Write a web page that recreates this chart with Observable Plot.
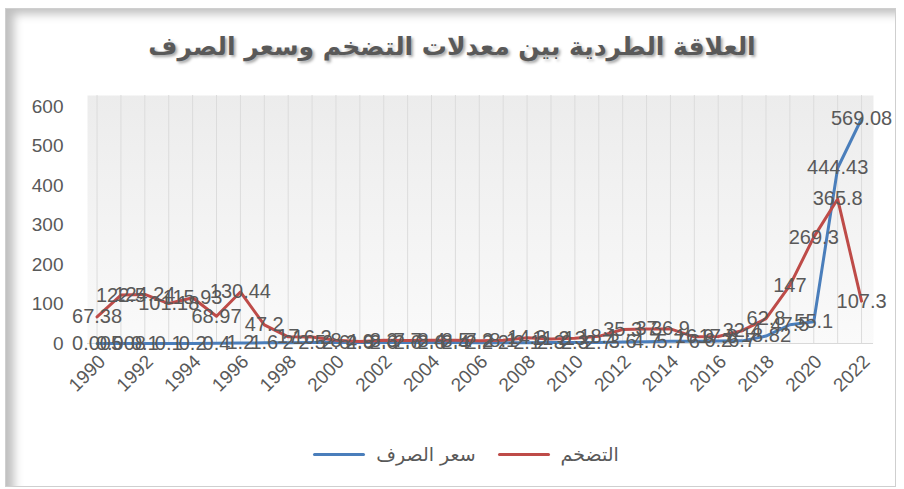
<!DOCTYPE html>
<html>
<head>
<meta charset="utf-8">
<script src="https://cdn.jsdelivr.net/npm/d3@7"></script>
<script src="https://cdn.jsdelivr.net/npm/@observablehq/plot@0.6"></script>
<style>
  html, body { margin: 0; padding: 0; background: #ffffff; }
  #wrap { position: relative; width: 904px; height: 489px; overflow: hidden; font-family: "Liberation Sans", Arial, sans-serif; }
  #card { position: absolute; left: 5px; top: 8px; width: 889px; height: 477px; border: 1px solid #cfcfcf;
          box-shadow: inset 16px 13px 10px -8px rgba(0,0,0,0.25); background: #ffffff; }
  #chart { position: absolute; left: 0; top: 0; }
  #title { position: absolute; left: 0; width: 904px; top: 32px; text-align: center; direction: rtl;
           font-family: "DejaVu Sans", sans-serif; font-weight: bold; font-size: 25px; color: #595959;
           text-shadow: 2px 2px 3px rgba(0,0,0,0.35); }
  #legend { position: absolute; top: 443px; left: 14px; width: 904px; display: flex; justify-content: center;
            align-items: center; font-family: "DejaVu Sans", sans-serif; font-size: 19px; color: #595959; }
  .sw { display: inline-block; width: 52px; height: 3px; border-radius: 2px; margin-right: 11px; }
  .item { display: flex; align-items: center; margin: 0 11px; }
</style>
</head>
<body>
<div id="wrap">
  <div id="card"></div>
  <div id="chart"></div>
  <div id="title">العلاقة الطردية بين معدلات التضخم وسعر الصرف</div>
  <div id="legend"></div>
</div>
<script>
const years = [1990,1991,1992,1993,1994,1995,1996,1997,1998,1999,2000,2001,2002,2003,2004,2005,2006,2007,2008,2009,2010,2011,2012,2013,2014,2015,2016,2017,2018,2019,2020,2021,2022];
const exchangeRate = [0.005,0.008,0.1,0.1,0.2,0.4,1.2,1.6,2,2.5,2.6,2.6,2.6,2.6,2.6,2.4,2.2,2,2.1,2.3,2.3,2.7,3.6,4.7,5.7,6,6.2,6.7,18.82,47.5,55.1,444.43,569.08];
const inflation = [67.38,122.5,124.24,101.18,115.93,68.97,130.44,47.2,17,16.2,8,4.9,8.3,7.7,8.4,8.5,7.2,8.1,14.3,11.2,13,18.1,35.3,37,36.9,16.9,17.8,32.4,62.8,147,269.3,365.8,107.3];
const xTickYears = [1990,1992,1994,1996,1998,2000,2002,2004,2006,2008,2010,2012,2014,2016,2018,2020,2022];
const yTicks = [0,100,200,300,400,500,600];
const seriesNames = ["سعر الصرف", "التضخم"];
const colors = ["#4A7EBB", "#BE4B48"];

const exData = years.map((y, i) => ({year: y, v: exchangeRate[i]}));
const infData = years.map((y, i) => ({year: y, v: inflation[i]}));

const defs = () => {
  const g = d3.create("svg:defs");
  const lg = g.append("linearGradient").attr("id", "bgGrad").attr("x1", 0).attr("y1", 0).attr("x2", 0).attr("y2", 1);
  lg.append("stop").attr("offset", "0%").attr("stop-color", "#ececec");
  lg.append("stop").attr("offset", "100%").attr("stop-color", "#fafafa");
  return g.node();
};

const chart = Plot.plot({
  width: 904,
  height: 489,
  marginLeft: 87,
  marginRight: 31,
  marginTop: 95,
  marginBottom: 146,
  style: {background: "transparent", fontFamily: "Liberation Sans, Arial, sans-serif"},
  x: {domain: [1989.6, 2022.5]},
  y: {domain: [0, 628]},
  marks: [
    defs,
    Plot.frame({fill: "url(#bgGrad)", stroke: null}),
    Plot.ruleX(years, {x: d => d, y1: 0, y2: 628, stroke: "#dcdcdc", strokeWidth: 1}),
    Plot.ruleY([0], {stroke: "#d9d9d9"}),
    Plot.line(exData, {x: "year", y: "v", stroke: colors[0], strokeWidth: 3}),
    Plot.line(infData, {x: "year", y: "v", stroke: colors[1], strokeWidth: 3}),
    Plot.text(infData, {x: "year", y: "v", text: d => String(d.v), fontSize: 20, fill: "#595959"}),
    Plot.text(exData, {x: "year", y: "v", text: d => String(d.v), fontSize: 20, fill: "#595959"}),
    Plot.axisY({ticks: yTicks, tickSize: 0, tickPadding: 24, fontSize: 19, fill: "#595959", label: null}),
    Plot.axisX({ticks: xTickYears, tickFormat: d => String(d), tickRotate: -45, tickSize: 0, tickPadding: 15, dx: 5, fontSize: 19, fill: "#595959", label: null})
  ]
});
document.getElementById("chart").appendChild(chart);

const legend = document.getElementById("legend");
seriesNames.forEach((name, i) => {
  const item = document.createElement("div");
  item.className = "item";
  const sw = document.createElement("span");
  sw.className = "sw";
  sw.style.background = colors[i];
  const t = document.createElement("span");
  t.textContent = name;
  item.appendChild(sw);
  item.appendChild(t);
  legend.appendChild(item);
});
</script>
</body>
</html>
